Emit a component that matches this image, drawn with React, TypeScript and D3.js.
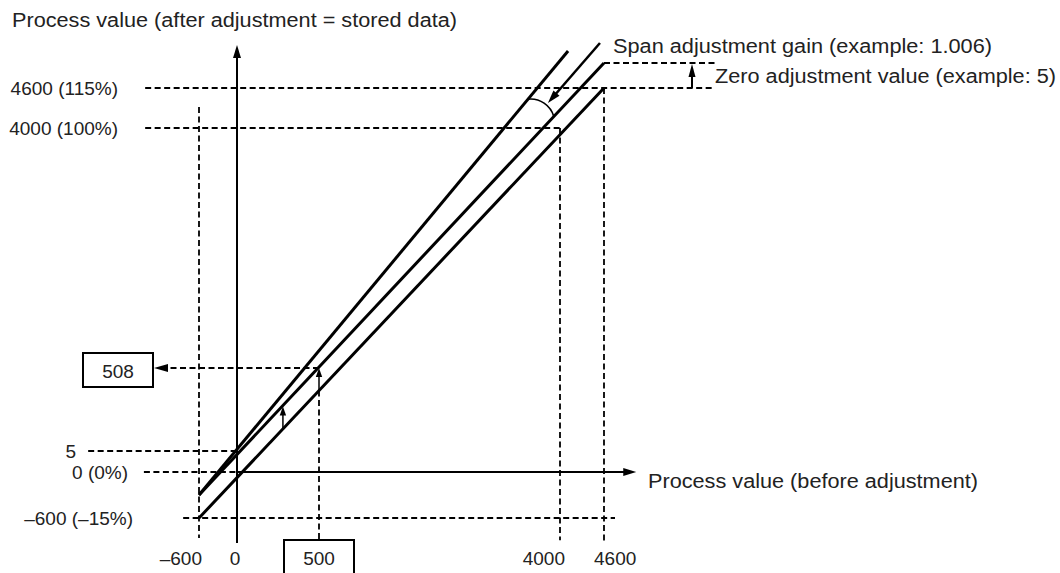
import React from "react";
import * as d3 from "d3";

// ---- data (diagram units) ----
const xTicks = [-600, 0, 500, 4000, 4600];
const yTicks = [-600, 0, 5, 508, 4000, 4600];
const xTickLabels = ["–600", "0", "500", "4000", "4600"];
const yTickLabels = ["–600 (–15%)", "0 (0%)", "5", "508", "4000 (100%)", "4600 (115%)"];

// characteristic lines [x, y]
const beforeLine: [number, number][] = [[-600, -600], [4600, 4600]];
const zeroLine: [number, number][] = [[-600, -300], [4600, 4975]];
const spanLine: [number, number][] = [[-600, -300], [4110, 5155]];

// dashed guides
const hGuides = [
  { y: 4600, x0: -1450, x1: 6090 },
  { y: 4975, x0: 4600, x1: 6110 },
  { y: 4000, x0: -1450, x1: 4000 },
  { y: 5, x0: -2350, x1: 0 },
  { y: 0, x0: -1470, x1: 0 },
  { y: -600, x0: -850, x1: 4750 },
];
const vGuides = [
  { x: -600, y0: 4315, y1: -860 },
  { x: 4000, y0: 4000, y1: -890 },
  { x: 4600, y0: 4600, y1: -925 },
];
const inputValue = 500;
const storedValue = 508;
const smallArrowX = [280, 500];
const zeroArrow = { x: 5800, y0: 4600, y1: 4975 };
const spanArrow = { x0: 4545, y0: 5275, x1: 3825, y1: 4375 };
const arcAnchors = { spanX: 3535, zeroX: 3910 };
const axisExtent = { yMin: -925, yMax: 5245, xMax: 5040 };

const X = d3.scaleLinear().domain(xTicks).range([199, 237, 319, 560, 604]);
const Y = d3.scaleLinear().domain(yTicks).range([518, 472, 451, 368, 128, 88]);

function pyOn(line: [number, number][], xd: number) {
  const [a, b] = line;
  const x0 = X(a[0]), y0 = Y(a[1]), x1 = X(b[0]), y1 = Y(b[1]);
  const px = X(xd);
  return y0 + ((y1 - y0) * (px - x0)) / (x1 - x0);
}

function head(tx: number, ty: number, fx: number, fy: number, len: number, hw: number) {
  const dx = tx - fx, dy = ty - fy, d = Math.hypot(dx, dy);
  const ux = dx / d, uy = dy / d;
  const bx = tx - ux * len, by = ty - uy * len;
  return `M${tx},${ty}L${bx - uy * hw},${by + ux * hw}L${bx + uy * hw},${by - ux * hw}Z`;
}

const line = d3
  .line<[number, number]>()
  .x((d) => X(d[0]))
  .y((d) => Y(d[1]));

const FONT = "'Liberation Sans', Arial, Helvetica, sans-serif";
const TXT = "#222";
const DASH = "6,3.5";

export default function App() {
  const W = 1060, H = 573;

  const yAxisX = X(0);
  const xAxisY = Y(0);
  const x500 = X(inputValue);
  const yA500 = pyOn(beforeLine, inputValue);
  const y508 = Y(storedValue);
  const box508 = { x: 83, y: 353, w: 70, h: 34 };
  const box500 = { x: 284, y: 540, w: 70, h: 50 };

  const arcP1 = [X(arcAnchors.spanX), pyOn(spanLine, arcAnchors.spanX)];
  const arcP2 = [X(arcAnchors.zeroX), pyOn(zeroLine, arcAnchors.zeroX)];

  const sa = { x0: X(spanArrow.x0), y0: Y(spanArrow.y0), x1: X(spanArrow.x1), y1: Y(spanArrow.y1) };

  const leftLabelEnds: Record<string, number> = {
    "4600 (115%)": 118,
    "4000 (100%)": 118,
    "5": 76,
    "0 (0%)": 128,
    "–600 (–15%)": 133,
  };
  const bottomLabelPos: Record<string, { dx: number; anchor: string }> = {
    "–600": { dx: 3, anchor: "end" },
    "0": { dx: -2, anchor: "middle" },
    "500": { dx: 0, anchor: "middle" },
    "4000": { dx: 5, anchor: "end" },
    "4600": { dx: -10, anchor: "start" },
  };

  return (
    <svg
      width={W}
      height={H}
      style={{ position: "absolute", left: 0, top: 0, background: "#fff" }}
      fontFamily={FONT}
    >
      <rect x={0} y={0} width={W} height={H} fill="#fff" />

      {/* dashed guides */}
      <g stroke="#000" strokeWidth={1.8} strokeDasharray={DASH} fill="none">
        {hGuides.map((g, i) => (
          <line key={"h" + i} x1={X(g.x0)} x2={X(g.x1)} y1={Y(g.y)} y2={Y(g.y)} />
        ))}
        {vGuides.map((g, i) => (
          <line key={"v" + i} x1={X(g.x)} x2={X(g.x)} y1={Y(g.y0)} y2={Y(g.y1)} />
        ))}
        <line x1={x500} x2={x500} y1={yA500} y2={box500.y} />
        <line x1={x500} x2={box508.x + box508.w + 12} y1={y508} y2={y508} />
      </g>

      {/* axes */}
      <g stroke="#000" strokeWidth={2} fill="none">
        <line x1={yAxisX} x2={yAxisX} y1={Y(axisExtent.yMin)} y2={Y(axisExtent.yMax) + 10} />
        <line x1={yAxisX} x2={X(axisExtent.xMax) - 10} y1={xAxisY} y2={xAxisY} />
      </g>
      <path d={head(yAxisX, Y(axisExtent.yMax), yAxisX, Y(axisExtent.yMax) + 20, 13, 4)} fill="#000" />
      <path d={head(X(axisExtent.xMax), xAxisY, X(axisExtent.xMax) - 20, xAxisY, 13, 4)} fill="#000" />

      {/* characteristic lines */}
      <g stroke="#000" strokeWidth={3} fill="none" strokeLinecap="butt">
        <path d={line(beforeLine) || ""} />
        <path d={line(zeroLine) || ""} />
        <path d={line(spanLine) || ""} />
      </g>

      {/* small arrows between lines */}
      {smallArrowX.map((xv, i) => {
        const px = X(xv);
        const yb = pyOn(beforeLine, xv);
        const yz = pyOn(zeroLine, xv);
        return (
          <g key={"sa" + i}>
            <line x1={px} x2={px} y1={yb} y2={yz + 6} stroke="#000" strokeWidth={1.5} />
            <path d={head(px, yz + 1, px, yb, 9, 3.2)} fill="#000" />
          </g>
        );
      })}

      {/* 508 arrow */}
      <path d={head(box508.x + box508.w + 1, y508, x500, y508, 14, 4)} fill="#000" />

      {/* boxes */}
      <rect x={box508.x} y={box508.y} width={box508.w} height={box508.h} fill="#fff" stroke="#000" strokeWidth={2} />
      <text x={box508.x + box508.w / 2} y={y508 + 10} textAnchor="middle" fontSize={19} fill={TXT}>
        {yTickLabels[3]}
      </text>
      <rect x={box500.x} y={box500.y} width={box500.w} height={box500.h} fill="#fff" stroke="#000" strokeWidth={2} />

      {/* zero adjustment arrow */}
      <line x1={X(zeroArrow.x)} x2={X(zeroArrow.x)} y1={Y(zeroArrow.y0)} y2={Y(zeroArrow.y1) + 8} stroke="#000" strokeWidth={2} />
      <path d={head(X(zeroArrow.x), Y(zeroArrow.y1) + 1, X(zeroArrow.x), Y(zeroArrow.y0), 13, 3.5)} fill="#000" />

      {/* span adjustment arrow & arc */}
      <line x1={sa.x0} y1={sa.y0} x2={sa.x1 + (sa.x0 - sa.x1) * 0.12} y2={sa.y1 + (sa.y0 - sa.y1) * 0.12} stroke="#000" strokeWidth={2.5} />
      <path d={head(sa.x1, sa.y1, sa.x0, sa.y0, 13, 4)} fill="#000" />
      <path d={`M${arcP1[0]},${arcP1[1]}A24,24 0 0 1 ${arcP2[0]},${arcP2[1]}`} fill="none" stroke="#000" strokeWidth={1.6} />

      {/* tick labels */}
      <g fontSize={19} fill={TXT}>
        {yTicks.map((v, i) => {
          const lab = yTickLabels[i];
          if (!(lab in leftLabelEnds)) return null;
          return (
            <text key={"yl" + i} x={leftLabelEnds[lab]} y={Y(v) + 7} textAnchor="end">
              {lab}
            </text>
          );
        })}
        {xTicks.map((v, i) => {
          const lab = xTickLabels[i];
          const p = bottomLabelPos[lab];
          return (
            <text key={"xl" + i} x={X(v) + p.dx} y={565} textAnchor={p.anchor as any}>
              {lab}
            </text>
          );
        })}
      </g>

      {/* titles / annotations */}
      <g fontSize={20} fill={TXT}>
        <text x={12} y={27} textLength={445} lengthAdjust="spacingAndGlyphs">
          Process value (after adjustment = stored data)
        </text>
        <text x={648} y={488} textLength={330} lengthAdjust="spacingAndGlyphs">
          Process value (before adjustment)
        </text>
        <text x={613} y={53} textLength={379} lengthAdjust="spacingAndGlyphs">
          Span adjustment gain (example: 1.006)
        </text>
        <text x={715} y={83} textLength={341} lengthAdjust="spacingAndGlyphs">
          Zero adjustment value (example: 5)
        </text>
      </g>
    </svg>
  );
}
